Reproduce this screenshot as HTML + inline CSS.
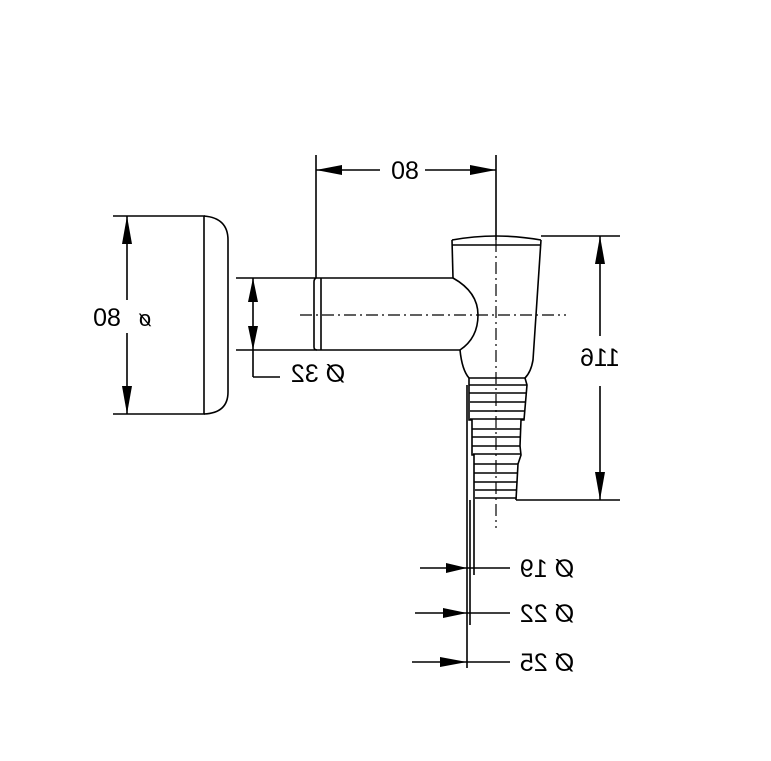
<!DOCTYPE html>
<html><head><meta charset="utf-8"><style>
html,body{margin:0;padding:0;background:#fff;}
svg{display:block}
text{font-family:"Liberation Sans",sans-serif;fill:#000;}
</style></head><body>
<svg width="771" height="761" viewBox="0 0 771 761" xmlns="http://www.w3.org/2000/svg">
<g fill="none" stroke="#000" stroke-width="1.6">
<line x1="113" y1="216" x2="205" y2="216"/>
<line x1="113" y1="414" x2="205" y2="414"/>
<path d="M204 216 L204 414"/>
<path d="M204 216 Q228 218 228 240 L228 392 Q228 413 204 414"/>
<line x1="127" y1="216" x2="127" y2="300"/>
<line x1="127" y1="333" x2="127" y2="414"/>
<line x1="236" y1="278" x2="453" y2="278"/>
<line x1="236" y1="350" x2="460" y2="350"/>
<path d="M316 278 Q314 279 314 282 L314 347 Q314 350 317 350"/>
<line x1="321" y1="278" x2="321" y2="350"/>
<path d="M453 278 Q478 292 478 315 Q478 338 460 350"/>
<path d="M452 240 Q496 232 541 240"/>
<line x1="452" y1="245" x2="541" y2="245"/>
<path d="M452 240 L453 278"/>
<path d="M460 350 Q462 370 469 378"/>
<path d="M541 240 L533 360 Q531 372 525 378"/>
<line x1="469" y1="378" x2="525" y2="378"/>
<line x1="469" y1="385" x2="527" y2="385"/>
<line x1="469" y1="393" x2="526" y2="393"/>
<line x1="470" y1="402" x2="525" y2="402"/>
<line x1="470" y1="411" x2="525" y2="411"/>
<line x1="470" y1="419" x2="524" y2="419"/>
<line x1="472" y1="429" x2="521" y2="429"/>
<line x1="472" y1="437" x2="520" y2="437"/>
<line x1="472" y1="446" x2="520" y2="446"/>
<line x1="473" y1="454" x2="521" y2="454"/>
<line x1="474" y1="464" x2="518" y2="464"/>
<line x1="474" y1="473" x2="518" y2="473"/>
<line x1="474" y1="482" x2="517" y2="482"/>
<line x1="475" y1="490" x2="517" y2="490"/>
<line x1="475" y1="498" x2="516" y2="498"/>
<path d="M469 378 L469 420 L472 420 L472 455 L474 455 L474 575"/>
<path d="M525 378 L527 385 L524 420 L521 420 L520 446 L521 455 L518 464 L516 500"/>
<line x1="467" y1="385" x2="467" y2="668"/>
<line x1="470" y1="500" x2="470" y2="625"/>
<line x1="316" y1="155" x2="316" y2="278"/>
<line x1="496" y1="155" x2="496" y2="240"/>
<line x1="316" y1="170" x2="380" y2="170"/>
<line x1="425" y1="170" x2="496" y2="170"/>
<line x1="541" y1="236" x2="620" y2="236"/>
<line x1="516" y1="500" x2="620" y2="500"/>
<line x1="600" y1="236" x2="600" y2="336"/>
<line x1="600" y1="386" x2="600" y2="500"/>
<line x1="253" y1="278" x2="253" y2="377"/>
<line x1="253" y1="377" x2="280" y2="377"/>
<line x1="420" y1="568" x2="510" y2="568"/>
<line x1="415" y1="613" x2="510" y2="613"/>
<line x1="412" y1="662" x2="510" y2="662"/>
</g>
<g stroke="#000" stroke-width="1.2" stroke-dasharray="12,4,2,4" fill="none">
<line x1="300" y1="315" x2="566" y2="315"/>
<line x1="496" y1="240" x2="496" y2="528"/>
</g>
<g fill="#000">
<polygon points="127,216 122,244 132,244"/>
<polygon points="127,414 122,386 132,386"/>
<polygon points="253,278 248,302 258,302"/>
<polygon points="253,350 248,326 258,326"/>
<polygon points="316,170 342,165 342,175"/>
<polygon points="496,170 470,165 470,175"/>
<polygon points="600,236 595,264 605,264"/>
<polygon points="600,500 595,472 605,472"/>
<polygon points="467,568 446,563 446,573"/>
<polygon points="467,613 443,608 443,618"/>
<polygon points="467,662 440,657 440,667"/>
</g>
<g font-size="25">
<text transform="translate(405,179) scale(-1,1)" text-anchor="middle">80</text>
<text transform="translate(107,326) scale(-1,1)" text-anchor="middle">80</text>
<text transform="translate(145,326) scale(-1,1)" text-anchor="middle" font-size="22">ø</text>
<text transform="translate(318,382) scale(-1,1)" text-anchor="middle">Ø 32</text>
<text transform="translate(600,366) scale(-1,1)" text-anchor="middle">116</text>
<text transform="translate(547,577) scale(-1,1)" text-anchor="middle">Ø 19</text>
<text transform="translate(547,622) scale(-1,1)" text-anchor="middle">Ø 22</text>
<text transform="translate(547,671) scale(-1,1)" text-anchor="middle">Ø 25</text>
</g>
</svg>
</body></html>
